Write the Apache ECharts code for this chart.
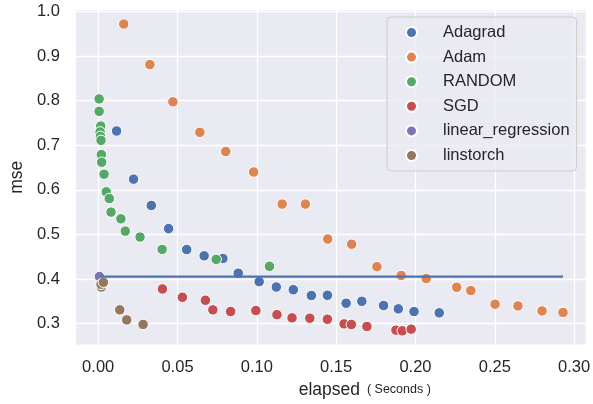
<!DOCTYPE html>
<html>
<head>
<meta charset="utf-8">
<script src="https://cdn.jsdelivr.net/npm/echarts@6/dist/echarts.min.js"></script>
<style>
  html, body { margin: 0; padding: 0; background: #fff; }
  #chart { width: 593px; height: 404px; }
</style>
</head>
<body>
<div id="chart"></div>
<script>
// data: [elapsed, mse]
var adagrad = [
  [0.0116, 0.732], [0.0223, 0.624], [0.0335, 0.565], [0.0444, 0.513], [0.0558, 0.466],
  [0.0668, 0.452], [0.0786, 0.446], [0.0883, 0.413], [0.1015, 0.394], [0.1123, 0.382],
  [0.1230, 0.376], [0.1344, 0.363], [0.1445, 0.3635], [0.1563, 0.3456], [0.1662, 0.350],
  [0.1799, 0.3405], [0.1892, 0.333], [0.1991, 0.327], [0.2150, 0.324]
];
var adam = [
  [0.0161, 0.972], [0.0326, 0.881], [0.0471, 0.7975], [0.0641, 0.729], [0.0804, 0.686],
  [0.0980, 0.640], [0.1160, 0.568], [0.1306, 0.568], [0.1447, 0.4895], [0.1598, 0.478],
  [0.1757, 0.4277], [0.1910, 0.408], [0.2068, 0.401], [0.2260, 0.3814], [0.2349, 0.374],
  [0.2502, 0.3434], [0.2646, 0.3396], [0.2798, 0.3284], [0.2930, 0.325]
];
var random = [
  [0.0006, 0.804], [0.0006, 0.776], [0.0016, 0.743], [0.0012, 0.730], [0.0014, 0.720],
  [0.0018, 0.711], [0.0020, 0.679], [0.0022, 0.662], [0.0037, 0.635], [0.0051, 0.5955],
  [0.0070, 0.5805], [0.0081, 0.550], [0.0143, 0.535], [0.0171, 0.5074], [0.0264, 0.494],
  [0.0403, 0.4664], [0.0744, 0.444], [0.1080, 0.4284]
];
var sgd = [
  [0.0405, 0.3776], [0.0531, 0.359], [0.0676, 0.3523], [0.0723, 0.3307], [0.0835, 0.327],
  [0.0994, 0.3293], [0.1127, 0.320], [0.1222, 0.3128], [0.1334, 0.312], [0.1445, 0.3098],
  [0.1550, 0.2993], [0.1596, 0.298], [0.1694, 0.2935], [0.1877, 0.2852], [0.1917, 0.2837],
  [0.1973, 0.2875]
];
var linearRegression = [[0.0008, 0.4054]];
var linstorch = [
  [0.0020, 0.382], [0.0018, 0.388], [0.0033, 0.3926], [0.0136, 0.3307], [0.0180, 0.3083],
  [0.0283, 0.298]
];
var baseline = [[0.0008, 0.4054], [0.2930, 0.4054]];

var xTicks = [0, 0.05, 0.10, 0.15, 0.20, 0.25, 0.30];
var yTicks = [0.3, 0.4, 0.5, 0.6, 0.7, 0.8, 0.9, 1.0];

var names = ['Adagrad', 'Adam', 'RANDOM', 'SGD', 'linear_regression', 'linstorch'];
var groups = [adagrad, adam, random, sgd, linearRegression, linstorch];
var colors = ['#4C72B0', '#DD8452', '#55A868', '#C44E52', '#8172B3', '#937860'];

var font = "'Liberation Sans', Arial, sans-serif";
var textColor = '#262626';

var chart = echarts.init(document.getElementById('chart'));

var series = groups.map(function (d, i) {
  return {
    name: names[i],
    type: 'scatter',
    data: d,
    symbolSize: 10.5,
    clip: false,
    itemStyle: { color: colors[i], borderColor: '#ffffff', borderWidth: 1, opacity: 1 },
    emphasis: { disabled: true }
  };
});
series.push({
  name: 'hline',
  type: 'line',
  data: baseline,
  symbol: 'none',
  lineStyle: { color: '#4C72B0', width: 2.2 },
  z: 5,
  silent: true
});

chart.setOption({
  backgroundColor: '#ffffff',
  animation: false,
  textStyle: { fontFamily: font },
  grid: { left: 69, right: 6, top: 10, bottom: 58.5, show: true, backgroundColor: '#EAEAF2', borderWidth: 0 },
  legend: {
    data: names,
    orient: 'vertical',
    left: 387,
    top: 17,
    icon: 'circle',
    itemWidth: 11,
    itemHeight: 11,
    itemGap: 7.6,
    padding: [7, 7, 7, 18],
    backgroundColor: 'rgba(234,234,242,0.8)',
    borderColor: '#cccccc',
    borderWidth: 1,
    borderRadius: 4,
    textStyle: { fontSize: 16.5, color: textColor, fontFamily: font, padding: [0, 0, 0, 21] }
  },
  xAxis: {
    type: 'value',
    min: -0.01408,
    max: 0.3073,
    name: '{a|elapsed}{b|  ( Seconds )}',
    nameLocation: 'middle',
    nameGap: 36,
    nameTextStyle: {
      padding: [0, 0, 0, 68],
      rich: {
        a: { fontSize: 17.5, color: textColor, fontFamily: font },
        b: { fontSize: 12.5, color: textColor, fontFamily: font, padding: [0, 0, 1, 0] }
      }
    },
    axisLine: { show: false },
    axisTick: { show: false, customValues: xTicks },
    axisLabel: {
      customValues: xTicks,
      fontSize: 16.5,
      color: textColor,
      margin: 14.5,
      formatter: function (v) { return v.toFixed(2); }
    },
    splitLine: { show: true, lineStyle: { color: '#ffffff', width: 1.3 } }
  },
  yAxis: {
    type: 'value',
    min: 0.2528,
    max: 1.0034,
    name: 'mse',
    nameLocation: 'middle',
    nameGap: 44,
    nameTextStyle: { fontSize: 17.5, color: textColor },
    axisLine: { show: false },
    axisTick: { show: false, customValues: yTicks },
    axisLabel: {
      customValues: yTicks,
      fontSize: 16.5,
      color: textColor,
      margin: 16,
      formatter: function (v) { return v.toFixed(1); }
    },
    splitLine: { show: true, lineStyle: { color: '#ffffff', width: 1.3 } }
  },
  series: series
});
</script>
</body>
</html>
